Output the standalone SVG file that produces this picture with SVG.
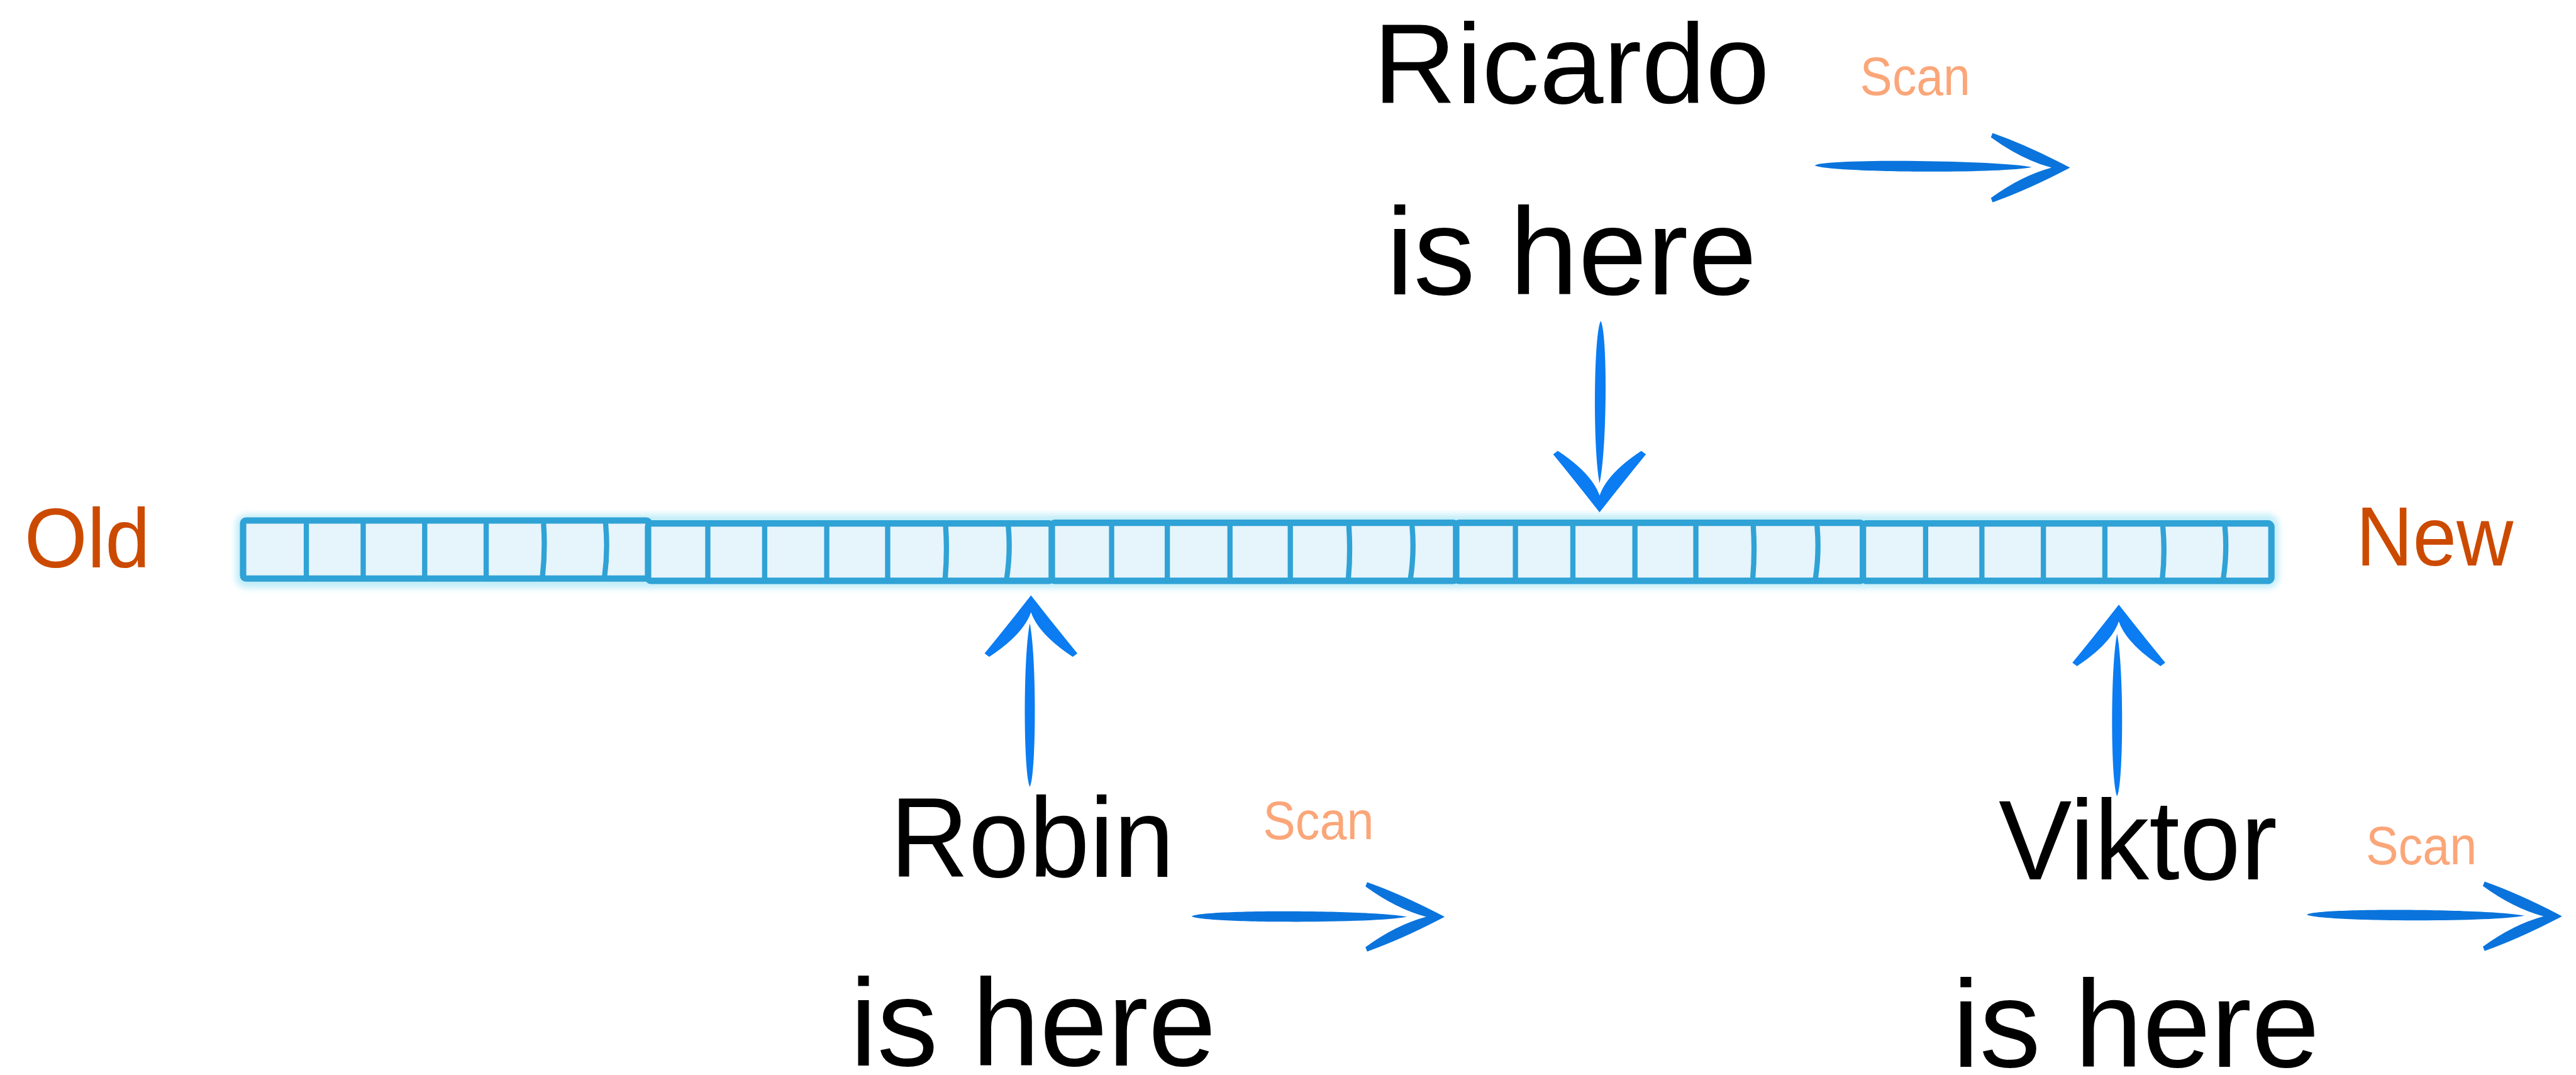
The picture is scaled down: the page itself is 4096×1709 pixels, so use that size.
<svg xmlns="http://www.w3.org/2000/svg" width="4096" height="1709" viewBox="0 0 4096 1709">
  <defs>
    <style>
      .hand{font-family:"Liberation Sans",Arial,sans-serif;fill:#000;}
      .end{font-family:"Liberation Sans",Arial,sans-serif;fill:#CC4A00;font-size:145px;}
      .scan{font-family:"Liberation Sans",Arial,sans-serif;fill:#FBA679;font-size:92px;}
      .seg{fill:#E6F4FB;stroke:#2FA2D6;stroke-width:11;stroke-linejoin:round;}
      .div{fill:none;stroke:#2FA2D6;stroke-width:9;stroke-linecap:round;}
      .halo{fill:none;stroke:#C4EEF9;stroke-width:26;}
      .ink{fill:#0B7CF2;}
      .ink2{fill:#0A74DC;}
    </style>
    <filter id="soft" x="-5%" y="-60%" width="110%" height="220%">
      <feGaussianBlur stdDeviation="5"/>
    </filter>
    <!-- brush-style arrowheads, tip at the origin -->
    <path id="headV" d="M-80,-100 Q-39,-50 0,0 Q39,-50 80,-100 L72,-106 Q13,-67 0,-29 Q-13,-67 -72,-106 Z"/>
    <path id="headH" d="M-133.5,-59.7 Q-72,-38 0,0 Q-72,38 -133.5,59.7 L-136.5,52.3 Q-84,14 -32,0 Q-84,-14 -136.5,-52.3 Z"/>
  </defs>

  <rect width="4096" height="1709" fill="#ffffff"/>

  <g transform="scale(0.92252)">
    <!-- end labels -->
    <g id="old">
      <text class="end" x="42" y="978" textLength="217" lengthAdjust="spacingAndGlyphs">Old</text>
    </g>
    <g id="new">
      <text class="end" x="4061" y="975" textLength="271" lengthAdjust="spacingAndGlyphs">New</text>
    </g>

    <!-- the log: five segments of seven cells -->
    <g id="log">
      <rect class="halo" x="419" y="899" width="3496" height="102" rx="6" filter="url(#soft)"/>
      <g id="segment-1">
        <rect class="seg" x="419" y="897" width="700" height="100" rx="5"/>
        <path class="div" d="M528,902V994M626,902V994M732,902V994M838,902V994M937,904Q940,950 935,994M1044,904Q1048,950 1042,994"/>
      </g>
      <g id="segment-2">
        <rect class="seg" x="1117" y="902" width="696" height="99" rx="5"/>
        <path class="div" d="M1220,907V998M1318,907V998M1425,907V998M1530,907V998M1630,908Q1633,952 1629,998M1738,908Q1742,952 1735,998"/>
      </g>
      <g id="segment-3">
        <rect class="seg" x="1813" y="901" width="697" height="100" rx="5"/>
        <path class="div" d="M1916,906V998M2012,906V998M2120,906V998M2224,906V998M2325,908Q2328,952 2324,998M2434,908Q2438,952 2431,998"/>
      </g>
      <g id="segment-4">
        <rect class="seg" x="2510" y="901" width="701" height="100" rx="5"/>
        <path class="div" d="M2612,906V998M2711,906V998M2818,906V998M2923,906V998M3022,908Q3025,952 3021,998M3132,908Q3136,952 3129,998"/>
      </g>
      <g id="segment-5">
        <rect class="seg" x="3211" y="902" width="704" height="99" rx="6"/>
        <path class="div" d="M3319,907V998M3416,907V998M3522,907V998M3628,907V998M3728,909Q3732,952 3727,998M3835,909Q3839,952 3832,998"/>
      </g>
    </g>

    <!-- readers -->
    <g id="ricardo">
      <text class="hand" x="2367" y="178" font-size="195" textLength="683" lengthAdjust="spacingAndGlyphs">Ricardo</text>
      <text class="hand" x="2389" y="507" font-size="213" textLength="639" lengthAdjust="spacingAndGlyphs">is here</text>
      <text class="scan" x="3206" y="164" textLength="190" lengthAdjust="spacingAndGlyphs">Scan</text>
    </g>
    <g id="robin">
      <text class="hand" x="1534" y="1511" font-size="195" textLength="490" lengthAdjust="spacingAndGlyphs">Robin</text>
      <text class="hand" x="1465" y="1836" font-size="213" textLength="631" lengthAdjust="spacingAndGlyphs">is here</text>
      <text class="scan" x="2177" y="1446" textLength="191" lengthAdjust="spacingAndGlyphs">Scan</text>
    </g>
    <g id="viktor">
      <text class="hand" x="3445" y="1515" font-size="195" textLength="480" lengthAdjust="spacingAndGlyphs">Viktor</text>
      <text class="hand" x="3365" y="1838" font-size="213" textLength="633" lengthAdjust="spacingAndGlyphs">is here</text>
      <text class="scan" x="4078" y="1489" textLength="191" lengthAdjust="spacingAndGlyphs">Scan</text>
    </g>

    <!-- connectors -->
    <g id="connectors">
      <g id="ricardo-position">
        <path class="ink" d="M2759,553 C2771,573 2770,773 2757,833 C2745,773 2747,573 2759,553 Z"/>
        <use class="ink" href="#headV" transform="translate(2757,883)"/>
      </g>
      <g id="ricardo-scan">
        <path class="ink2" d="M3128,285 C3148,273 3442,276 3502,288 C3442,300 3148,297 3128,285 Z"/>
        <use class="ink2" href="#headH" transform="translate(3568,289)"/>
      </g>
      <g id="robin-position">
        <path class="ink" d="M1775,1074 C1787,1134 1786,1336 1775,1356 C1764,1336 1763,1134 1775,1074 Z"/>
        <use class="ink" href="#headV" transform="translate(1777,1026) scale(1,-1)"/>
      </g>
      <g id="robin-scan">
        <path class="ink2" d="M2054,1579 C2074,1567 2365,1568 2425,1580 C2365,1592 2074,1591 2054,1579 Z"/>
        <use class="ink2" href="#headH" transform="translate(2490,1580)"/>
      </g>
      <g id="viktor-position">
        <path class="ink" d="M3649,1092 C3661,1152 3660,1352 3649,1372 C3638,1352 3637,1152 3649,1092 Z"/>
        <use class="ink" href="#headV" transform="translate(3652,1042) scale(1,-1)"/>
      </g>
      <g id="viktor-scan">
        <path class="ink2" d="M3976,1576 C3996,1564 4291,1566 4351,1578 C4291,1590 3996,1588 3976,1576 Z"/>
        <use class="ink2" href="#headH" transform="translate(4416,1579)"/>
      </g>
    </g>
  </g>
</svg>
